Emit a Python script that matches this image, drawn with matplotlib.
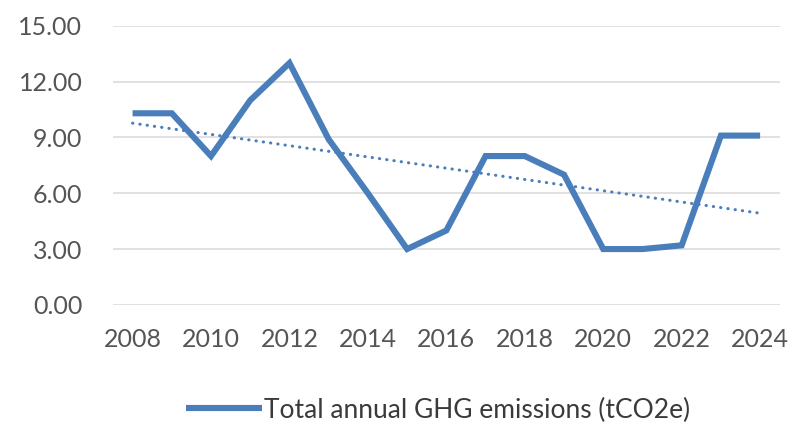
import matplotlib
matplotlib.use("Agg")
import matplotlib.pyplot as plt
import numpy as np

years = [2008, 2009, 2010, 2011, 2012, 2013, 2014, 2015, 2016,
         2017, 2018, 2019, 2020, 2021, 2022, 2023, 2024]
emissions = [10.3, 10.3, 8.0, 11.0, 13.0, 8.9, 6.0, 3.0, 4.0,
             8.0, 8.0, 7.0, 3.0, 3.0, 3.2, 9.1, 9.1]
series_label = "Total annual GHG emissions (tCO2e)"
y_ticks = [0, 3, 6, 9, 12, 15]
x_ticks = [2008, 2010, 2012, 2014, 2016, 2018, 2020, 2022, 2024]

plt.rcParams['font.family'] = ['Lato', 'DejaVu Sans']

fig = plt.figure(figsize=(7.9, 4.24), dpi=100)
ax = fig.add_axes([0.143, 0.281, 0.844, 0.658])

blue = "#4A7EBB"
ax.plot(years, emissions, color=blue, lw=4.4, solid_joinstyle='miter',
        solid_capstyle='butt', label=series_label, zorder=3)

coef = np.polyfit(years, emissions, 1)
trend = np.polyval(coef, years)
ax.plot(years, trend, color=blue, lw=2.2, linestyle=(0, (0.1, 2.3)),
        dash_capstyle='round', zorder=2)

ax.set_xlim(2007.5, 2024.5)
ax.set_ylim(0, 15)
ax.set_yticks(y_ticks)
ax.set_yticklabels([f"{v:.2f}" for v in y_ticks])
ax.set_xticks(x_ticks)
ax.set_xticklabels([str(v) for v in x_ticks])
ax.grid(axis='y', color='#d9d9d9', lw=1.1)
ax.set_axisbelow(True)
for s in ax.spines.values():
    s.set_visible(False)
ax.tick_params(axis='both', length=0, labelsize=18, labelcolor='#555555')
ax.tick_params(axis='y', pad=22)
ax.tick_params(axis='x', pad=17)

leg = fig.legend(loc='center', bbox_to_anchor=(0.555, 0.033), frameon=False,
                 handlelength=2.85, handletextpad=0.1, fontsize=19)
for t in leg.get_texts():
    t.set_color('#3a3a3a')

fig.savefig("out.png", dpi=100)
